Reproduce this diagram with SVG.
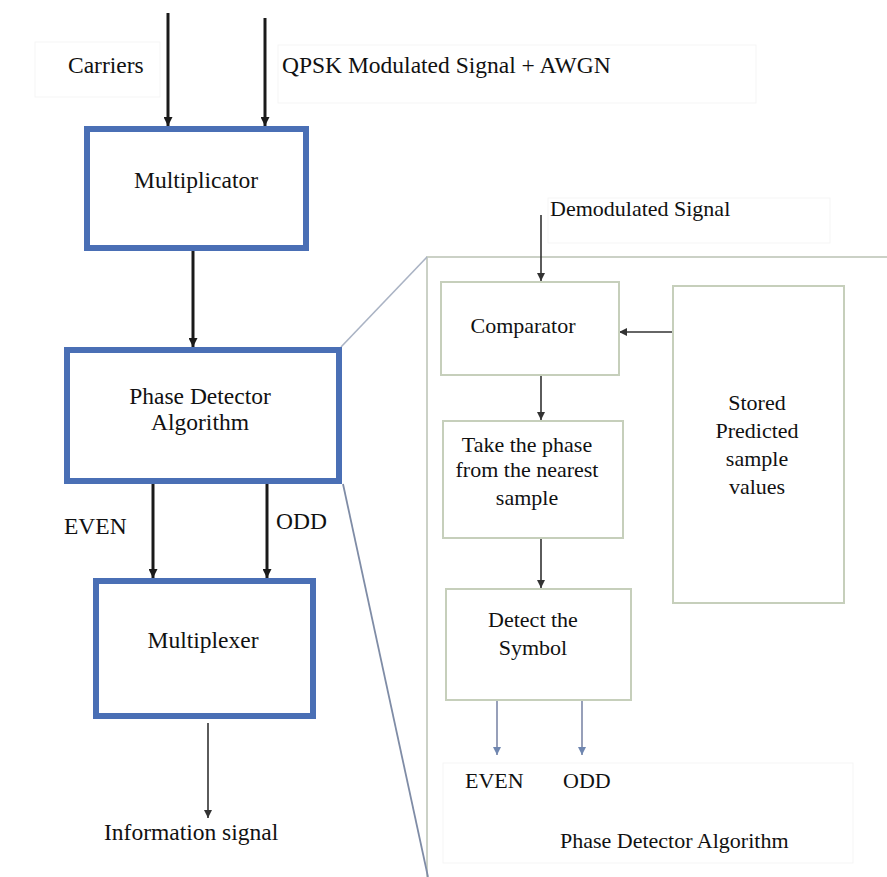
<svg xmlns="http://www.w3.org/2000/svg" width="887" height="877" viewBox="0 0 887 877">
<style>
text{font-family:"Liberation Serif","Times New Roman",serif;fill:#111;}
.l{font-size:23.5px;}
.r{font-size:22px;}
.m{text-anchor:middle;}
.blue{fill:#fff;stroke:#4a6fb5;stroke-width:6;}
.grn{fill:#fff;stroke:#c6cfbb;stroke-width:2;}
.thick{stroke:#1a1a1a;stroke-width:3;fill:none;}
.thin{stroke:#333;stroke-width:1.6;fill:none;}
.bl{stroke:#7d88a8;stroke-width:1.6;fill:none;}
.frame{stroke:#cbd1c6;stroke-width:2;fill:none;}
.faint{fill:none;stroke:#f5f5f5;stroke-width:1;}
</style>
<defs>
<marker id="ah" viewBox="0 0 10 10" refX="10" refY="5" markerWidth="3" markerHeight="3" orient="auto" markerUnits="strokeWidth"><path d="M0,0 L10,5 L0,10 z" fill="#1a1a1a"/></marker>
<marker id="ah2" viewBox="0 0 10 10" refX="10" refY="5" markerWidth="5" markerHeight="5" orient="auto" markerUnits="strokeWidth"><path d="M0,0 L10,5 L0,10 z" fill="#333"/></marker>
<marker id="ah3" viewBox="0 0 10 10" refX="10" refY="5" markerWidth="5" markerHeight="5" orient="auto" markerUnits="strokeWidth"><path d="M0,0 L10,5 L0,10 z" fill="#6f86b0"/></marker>
</defs>
<rect width="887" height="877" fill="#fff"/>
<g id="label-boxes">
<rect class="faint" x="35" y="42" width="125" height="55"/>
<rect class="faint" x="278" y="45" width="478" height="58"/>
<rect class="faint" x="548" y="198" width="282" height="45"/>
<rect class="faint" x="443" y="763" width="410" height="100"/>
</g>
<g id="zoom-frame">
<polyline class="frame" points="887,257 427,257 427,877"/>
<line x1="341" y1="347" x2="427" y2="257" stroke="#aab3c4" stroke-width="1.6"/>
<line x1="343" y1="484" x2="428" y2="877" stroke="#7f8ca6" stroke-width="1.8"/>
</g>
<g id="connectors">
<line class="thick" x1="168" y1="13" x2="168" y2="126" marker-end="url(#ah)"/>
<line class="thick" x1="265" y1="18" x2="265" y2="126" marker-end="url(#ah)"/>
<line class="thick" x1="193" y1="251" x2="193" y2="347" marker-end="url(#ah)"/>
<line class="thick" x1="153" y1="484" x2="153" y2="578" marker-end="url(#ah)"/>
<line class="thick" x1="267" y1="484" x2="267" y2="578" marker-end="url(#ah)"/>
<line class="thin" x1="208" y1="723" x2="208" y2="818" marker-end="url(#ah2)"/>
<line class="thin" x1="541" y1="215" x2="541" y2="281" marker-end="url(#ah2)"/>
<line class="thin" x1="672" y1="332" x2="619" y2="332" marker-end="url(#ah2)"/>
<line class="thin" x1="541" y1="375" x2="541" y2="420" marker-end="url(#ah2)"/>
<line class="thin" x1="541" y1="538" x2="541" y2="588" marker-end="url(#ah2)"/>
<line class="bl" x1="497" y1="700" x2="497" y2="755" marker-end="url(#ah3)"/>
<line class="bl" x1="582" y1="700" x2="582" y2="755" marker-end="url(#ah3)"/>
</g>
<g id="carriers"><text class="l" x="68" y="73">Carriers</text></g>
<g id="qpsk"><text class="l" x="282" y="73">QPSK Modulated Signal + AWGN</text></g>
<g id="multiplicator">
<rect class="blue" x="87" y="129" width="219" height="119"/>
<text class="l m" x="196" y="188">Multiplicator</text>
</g>
<g id="phase-detector">
<rect class="blue" x="67" y="350" width="272" height="131"/>
<text class="l m" x="200" y="404">Phase Detector</text>
<text class="l m" x="200" y="430">Algorithm</text>
</g>
<g id="even-label"><text class="l" x="64" y="534">EVEN</text></g>
<g id="odd-label"><text class="l" x="276" y="529">ODD</text></g>
<g id="multiplexer">
<rect class="blue" x="96" y="581" width="217" height="135"/>
<text class="l m" x="203" y="648">Multiplexer</text>
</g>
<g id="information-signal"><text class="l" x="104" y="840">Information signal</text></g>
<g id="demodulated-signal"><text class="r" x="550" y="216">Demodulated Signal</text></g>
<g id="comparator">
<rect class="grn" x="441" y="282" width="178" height="93"/>
<text class="r m" x="523" y="333">Comparator</text>
</g>
<g id="stored-values">
<rect class="grn" x="673" y="286" width="171" height="317"/>
<text class="r m" x="757" y="410">Stored</text>
<text class="r m" x="757" y="438">Predicted</text>
<text class="r m" x="757" y="466">sample</text>
<text class="r m" x="757" y="494">values</text>
</g>
<g id="take-phase">
<rect class="grn" x="443" y="421" width="180" height="117"/>
<text class="r m" x="527" y="452">Take the phase</text>
<text class="r m" x="527" y="477">from the nearest</text>
<text class="r m" x="527" y="505">sample</text>
</g>
<g id="detect-symbol">
<rect class="grn" x="446" y="589" width="185" height="111"/>
<text class="r m" x="533" y="627">Detect the</text>
<text class="r m" x="533" y="655">Symbol</text>
</g>
<g id="even-out"><text class="r" x="465" y="788">EVEN</text></g>
<g id="odd-out"><text class="r" x="563" y="788">ODD</text></g>
<g id="panel-title"><text class="r" x="560" y="848">Phase Detector Algorithm</text></g>
</svg>
